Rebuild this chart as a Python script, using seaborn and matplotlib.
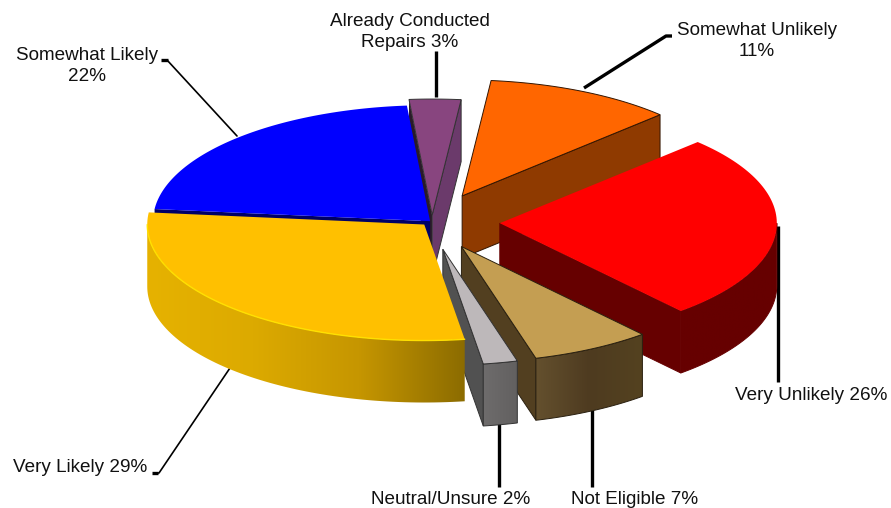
import numpy as np
import matplotlib
matplotlib.use("Agg")
import matplotlib.pyplot as plt
from matplotlib.patches import Polygon
import seaborn as sns

# clockwise from the top of the pie
labels = ["Already Conducted\nRepairs 3%", "Somewhat Unlikely\n11%", "Very Unlikely 26%",
          "Not Eligible 7%", "Neutral/Unsure 2%", "Very Likely 29%", "Somewhat Likely\n22%"]
values = [3, 11, 26, 7, 2, 29, 22]
explode = [0.06, 0.25, 0.245, 0.24, 0.24, 0.03, 0.01]
nudge_x = [0, 0, 0, -2, -3, -2, 0]

top_colors = ["#88457F", "#FF6600", "#FF0000", "#C49E52", "#BDB8BA", "#FFC000", "#0000FF"]
cut_colors = ["#2A1A2A", "#8F3A00", "#660000", "#523F20", "#515151", "#8B6C00", "#000066"]
far_colors = ["#6B3A6B", "#8F3A00", "#660000", "#523F20", "#515151", "#8B6C00", "#000066"]
rim_colors = [None, None, ["#660000", "#660000"], ["#64502E", "#4E3B20", "#54421F"],
              ["#6E6C6C", "#626060"], ["#E6B200", "#DCAA00", "#C69600", "#8C6C00"], None]
edge_colors = ["#333333", "#331500", "#660000", "#2A2010", "#333333", None, None]
top_edges = ["#333333", "#331500", None, "#2A2010", "#333333", None, None]
# painter's order: cut face, rim, top
z_side = [2, 1, 6, 8, 10, 12, 3]
z_top = [5, 1.5, 7, 9, 11, 13, 4]

leader_thick = [[(436, 51), (436, 97)], [(584, 88), (666, 36), (672, 36)], [(778, 226), (778, 382)],
                [(592, 410), (592, 487)], [(499, 423), (499, 487)]]
leader_thin = [[(237, 136), (167, 60)], [(232, 365), (159, 473), (157, 473)]]
leader_stub = [[(161, 60), (168, 60)], [(152, 473), (158, 473)]]

text_pos = [(410, 32), (757, 41), (811, 396), (635, 500), (451, 500), (80, 468), (87, 66)]

cx, cy = 432, 222
rx, ry = 277, 116
depth = 62
start = -4.8

sns.set_theme(style="white")
plt.rcParams["font.family"] = ["Liberation Sans", "DejaVu Sans"]

fig = plt.figure(figsize=(8.91, 5.08), dpi=100)
ax = fig.add_axes([0, 0, 1, 1])


def rim(center, a, b):
    t = np.radians(np.linspace(a, b, 80))
    return np.column_stack([center[0] + rx * np.sin(t), center[1] - ry * np.cos(t)])


edges = start + np.concatenate([[0], np.cumsum(values)]) * 3.6
down = np.array([0, depth])

for i in range(len(values)):
    a, b = edges[i], edges[i + 1]
    mid = np.radians((a + b) / 2)
    c = np.array([cx + nudge_x[i] + explode[i] * rx * np.sin(mid), cy - explode[i] * ry * np.cos(mid)])
    arc = rim(c, a, b)
    ec = edge_colors[i]
    lw = 0.7 if ec else 0

    # cut faces, only the ones turned to the viewer
    if np.sin(np.radians(a)) < 0:
        face = [c, arc[0], arc[0] + down, c + down]
        ax.add_patch(Polygon(face, fc=cut_colors[i], ec="none", zorder=z_side[i]))
    if np.sin(np.radians(b)) > 0:
        face = [c, arc[-1], arc[-1] + down, c + down]
        ax.add_patch(Polygon(face, fc=far_colors[i], ec=ec or "none", lw=lw, zorder=z_side[i]))

    # outer wall, only where it faces the viewer
    lo, hi = max(a, 90), min(b, 270)
    if rim_colors[i] and lo < hi:
        wall = rim(c, lo, hi)
        outline = np.vstack([wall, (wall + down)[::-1]])
        patch = Polygon(outline, fc="none", ec=ec or "none", lw=lw, zorder=z_side[i] + 0.1)
        ax.add_patch(patch)
        cmap = sns.blend_palette(rim_colors[i], as_cmap=True)
        x0, x1 = outline[:, 0].min(), outline[:, 0].max()
        y0, y1 = outline[:, 1].min(), outline[:, 1].max()
        im = ax.imshow(np.linspace(0, 1, 256)[None, :], cmap=cmap, extent=(x0, x1, y1, y0),
                       aspect="auto", zorder=z_side[i] + 0.05)
        im.set_clip_path(patch)

    ax.add_patch(Polygon(np.vstack([c, arc]), fc=top_colors[i], ec=top_edges[i] or "none",
                         lw=0.7 if top_edges[i] else 0, zorder=z_top[i]))

    if labels[i].startswith("Very Likely"):
        ax.plot(*rim(c, lo, hi).T, color="#FFE000", lw=1.0, zorder=z_top[i] + 0.1)

    ax.text(*text_pos[i], labels[i], ha="center", va="center", fontsize=13.6, color="#111111",
            linespacing=1.28, zorder=20)

for pts in leader_thick:
    ax.plot(*np.array(pts).T, color="black", lw=2.4, solid_capstyle="butt", zorder=0.5)
for pts in leader_thin:
    ax.plot(*np.array(pts).T, color="black", lw=1.2, zorder=0.5)
for pts in leader_stub:
    ax.plot(*np.array(pts).T, color="black", lw=2.4, solid_capstyle="butt", zorder=0.5)

ax.set_xlim(0, 891)
ax.set_ylim(508, 0)
ax.axis("off")

fig.savefig("out.png", dpi=100)
